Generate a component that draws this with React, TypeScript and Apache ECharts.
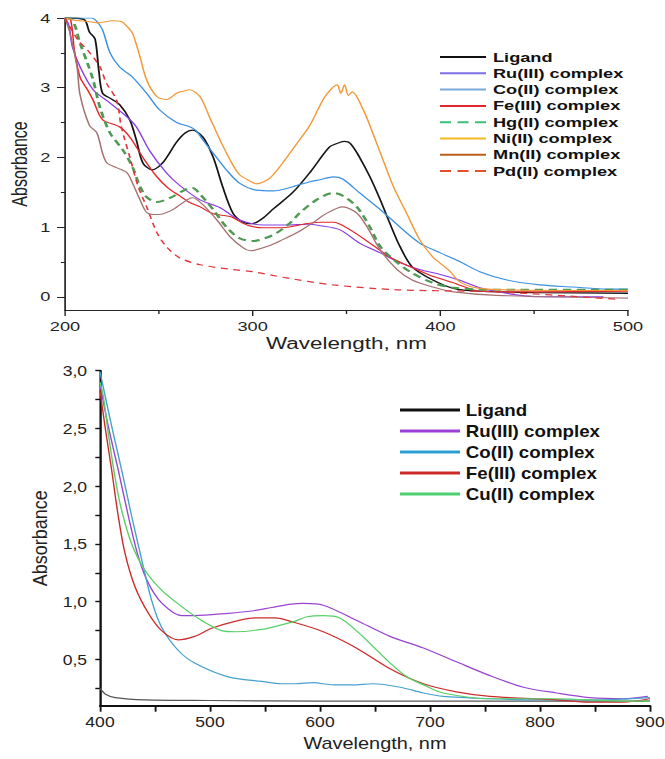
import React, { useEffect, useRef } from "react";
import * as echarts from "echarts";

// ---------- TOP PANEL DATA (wavelength nm, absorbance) ----------
const ligandTop = [[200,4],[210,3.98],[213,3.8],[216,3.7],[218,3.25],[220,2.92],[224,2.85],[229,2.76],[234.5,2.54],[238,2.25],[241.5,1.92],[246.5,1.82],[252,1.92],[259.5,2.22],[264,2.35],[268,2.39],[273.5,2.29],[279,2.0],[284,1.58],[289.5,1.2],[295,1.07],[300,1.05],[305,1.12],[311,1.26],[321.5,1.5],[331,1.8],[341,2.15],[346,2.21],[349,2.23],[352,2.2],[357,2.0],[362.5,1.72],[368,1.39],[373,1.06],[378.5,0.72],[385,0.43],[396,0.24],[407,0.12],[420,0.08],[450,0.06],[500,0.05]];
const ruTop = [[200,4],[202,3.9],[204,3.58],[208,3.3],[215,2.97],[224,2.78],[233,2.58],[238,2.44],[245,2.1],[254,1.78],[261,1.6],[272,1.39],[282.5,1.28],[293,1.1],[305.5,1.03],[318,1.03],[329,1.04],[336,1.02],[346.5,0.96],[357,0.77],[368,0.63],[378.5,0.49],[389,0.39],[400,0.32],[410,0.24],[421,0.13],[435,0.05],[453,0.0],[487,0.0]];
const coTop = [[200,4],[214,4],[217,3.95],[220,3.83],[224,3.5],[229,3.3],[236,3.15],[243.5,2.92],[250.5,2.68],[259.5,2.5],[266.5,2.44],[270,2.38],[273.5,2.25],[279,2.06],[286,1.82],[293,1.63],[302,1.53],[311,1.52],[321.5,1.58],[330.5,1.65],[336,1.68],[343,1.72],[348,1.69],[357,1.49],[368,1.25],[378.5,1.0],[389,0.77],[400,0.63],[410,0.51],[421,0.36],[435.5,0.24],[453,0.17],[470.6,0.14],[489,0.11],[500,0.11]];
const feTop = [[200,4],[203,3.97],[205,3.54],[208,3.15],[212,2.97],[215,2.82],[220,2.54],[229,2.44],[234.6,2.29],[241.5,2.0],[249,1.72],[255,1.56],[261,1.45],[266,1.36],[272,1.29],[279,1.19],[288,1.15],[297,1.03],[305.5,0.99],[316,0.99],[329,1.05],[336,1.07],[343,1.07],[352,0.96],[362.5,0.77],[373,0.57],[384,0.43],[394.5,0.31],[407,0.2],[410,0.17],[421,0.08],[450,0.07],[500,0.08]];
const hgTop = [[200,4],[204,3.97],[208,3.64],[212,3.35],[215,3.11],[218.6,2.72],[224,2.35],[231,2.1],[236,1.86],[240,1.58],[243.5,1.43],[249,1.36],[256,1.42],[265,1.55],[268,1.56],[272,1.47],[279,1.25],[286,1.0],[293,0.84],[300,0.8],[311,0.89],[320,1.06],[325,1.2],[334,1.39],[343,1.49],[348,1.45],[355.5,1.29],[362.5,1.0],[368,0.72],[377,0.49],[385,0.34],[396,0.2],[407,0.13],[430,0.1],[500,0.1]];
const niTop = [[200,4],[205,3.97],[212,3.95],[218,3.93],[225,3.96],[230,3.95],[233,3.88],[236,3.78],[240,3.44],[243.5,3.11],[249,2.87],[254,2.83],[259.5,2.92],[263,2.95],[266.5,2.97],[272,2.87],[277,2.58],[282.6,2.25],[288,1.96],[293,1.75],[298.6,1.66],[302,1.62],[309,1.7],[316,1.92],[323.6,2.2],[330.5,2.46],[338.5,2.87],[345,3.04],[347,2.92],[349,3.04],[351,2.89],[353,2.94],[359,2.68],[364,2.35],[369.5,1.96],[375,1.58],[382,1.2],[389,0.82],[396,0.57],[400,0.48],[405,0.37],[410,0.22],[417,0.14],[425,0.11],[460,0.09],[500,0.09]];
const mnTop = [[200,4],[202.7,3.78],[206.4,3.3],[208,2.9],[213,2.46],[217,2.35],[220,2.06],[222.4,1.92],[227.7,1.85],[233,1.78],[236,1.63],[240,1.39],[244,1.2],[250,1.18],[257.5,1.25],[265,1.39],[268,1.42],[273.5,1.32],[281,1.1],[288,0.86],[295,0.7],[298.6,0.66],[307.6,0.72],[316,0.82],[325,0.94],[332,1.06],[339.6,1.2],[348,1.29],[355.5,1.2],[361,1.0],[368,0.67],[377,0.39],[385,0.24],[396,0.14],[407,0.07],[430,0.02],[500,-0.02]];
const pdTop = [[200,4],[207,3.68],[212,3.54],[218.6,3.3],[222,3.07],[227.5,2.82],[230,2.44],[234.6,2.0],[239,1.58],[243.5,1.29],[249,0.92],[254,0.72],[261,0.56],[272,0.46],[289.5,0.39],[300,0.36],[318,0.27],[343,0.17],[377,0.1],[430,0.07],[496,-0.04]];

// ---------- BOTTOM PANEL DATA ----------
const ligandBot = [[400,0.25],[405,0.2],[414,0.17],[441,0.15],[500,0.145],[600,0.14],[700,0.14],[800,0.14],[900,0.14]];
const ruBot = [[400,2.88],[407.5,2.52],[416.6,2.14],[425.8,1.74],[434.8,1.39],[444,1.16],[456,0.99],[474,0.88],[486,0.88],[516.6,0.9],[538,0.92],[556,0.95],[574,0.98],[585,0.985],[603,0.97],[633,0.84],[663.6,0.7],[694,0.6],[724,0.48],[754.5,0.36],[785,0.26],[815,0.21],[845,0.17],[876,0.16],[898,0.18]];
const coBot = [[400,2.99],[410.6,2.52],[419.7,2.14],[428.8,1.74],[438,1.36],[447,1.01],[456,0.78],[471,0.58],[486,0.47],[516.6,0.35],[547,0.31],[565,0.29],[577,0.29],[594,0.3],[612,0.28],[630,0.28],[648,0.29],[673,0.26],[694,0.21],[712,0.18],[754.5,0.16],[800,0.15],[850,0.15],[900,0.17]];
const feBot = [[400,2.83],[404.5,2.52],[410.6,2.14],[416.6,1.74],[422.7,1.42],[431.8,1.13],[444,0.9],[456,0.75],[471,0.67],[486,0.7],[501.5,0.77],[522.7,0.83],[541,0.86],[559,0.86],[577,0.82],[603,0.74],[633,0.6],[663.6,0.42],[694,0.29],[724,0.22],[754.5,0.18],[815,0.15],[845,0.13],[875,0.13],[900,0.16]];
const cuBot = [[400,2.9],[403,2.78],[407.5,2.46],[413.6,2.08],[419.7,1.79],[428.8,1.5],[441,1.27],[456,1.1],[474,0.96],[492,0.84],[510.6,0.75],[522.7,0.74],[547,0.76],[565,0.8],[577,0.83],[588,0.87],[603,0.88],[618,0.86],[633,0.75],[648.5,0.61],[663.6,0.47],[679,0.35],[694,0.28],[712,0.21],[754.5,0.16],[815,0.16],[876,0.14],[900,0.14]];

// ---------- TICKS ----------
const topYLabels = [0, 1, 2, 3, 4];
const topYMinor = [0.5, 1.5, 2.5, 3.5];
const botYLabels = [0.5, 1.0, 1.5, 2.0, 2.5, 3.0];
const botYTicks = [0.25, 0.5, 0.75, 1.0, 1.25, 1.5, 1.75, 2.0, 2.25, 2.5, 2.75, 3.0];

const FONT = "'Liberation Sans', Arial, Helvetica, sans-serif";
const S1 = 1.4; // horizontal stretch of the top panel
const S2 = 1.17; // horizontal stretch of the bottom panel
const W1 = 665 / S1;
const W2 = 665 / S2;

const SOLID = "path://M0,0H100V6H0Z";
const DASH = "path://M0,0H24V6H0Z M38,0H62V6H38Z M76,0H100V6H76Z";

const topSeries = [
  { name: "Ligand", data: ligandTop, color: "#151515", legend: "#111111", width: 1.3, type: "solid", icon: SOLID },
  { name: "Ru(III) complex", data: ruTop, color: "#8a3ee6", legend: "#7d6ee6", width: 1.1, type: "solid", icon: SOLID },
  { name: "Co(II) complex", data: coTop, color: "#3b8fe0", legend: "#78a9d8", width: 1.1, type: "solid", icon: SOLID },
  { name: "Fe(III) complex", data: feTop, color: "#e3262b", legend: "#e3262b", width: 1.1, type: "solid", icon: SOLID },
  { name: "Hg(II) complex", data: hgTop, color: "#4d9a52", legend: "#3cc07a", width: 2, type: [6, 4], icon: DASH },
  { name: "Ni(II) complex", data: niTop, color: "#f29a3a", legend: "#f5b922", width: 1.1, type: "solid", icon: SOLID },
  { name: "Mn(II) complex", data: mnTop, color: "#a57272", legend: "#b8601c", width: 1.1, type: "solid", icon: SOLID },
  { name: "Pd(II) complex", data: pdTop, color: "#e0353a", legend: "#e4502c", width: 1.2, type: [5, 4], icon: DASH },
];

const botSeries = [
  { name: "Ligand", data: ligandBot, color: "#555555", legend: "#111111" },
  { name: "Ru(III) complex", data: ruBot, color: "#9a45d2", legend: "#9b3fd6" },
  { name: "Co(II) complex", data: coBot, color: "#45a2cf", legend: "#2e9fd2" },
  { name: "Fe(III) complex", data: feBot, color: "#cc2b2b", legend: "#cc2a2a" },
  { name: "Cu(II) complex", data: cuBot, color: "#58d068", legend: "#4cd070" },
];

function topOption(): any {
  const axisCol = "#222";
  return {
    animation: false,
    backgroundColor: "transparent",
    grid: { left: 65 / S1, top: 18, width: (628 - 65) / S1, height: 292, containLabel: false, outerBoundsMode: "none" },
    xAxis: {
      type: "value", min: 200, max: 500, interval: 100,
      axisLine: { show: true, onZero: false, lineStyle: { color: axisCol, width: 1.2 } },
      axisTick: { show: true, length: 6, lineStyle: { color: axisCol, width: 1 } },
      minorTick: { show: true, splitNumber: 2, length: 4, lineStyle: { color: axisCol, width: 1 } },
      splitLine: { show: false }, minorSplitLine: { show: false },
      axisLabel: { color: axisCol, fontSize: 13, margin: 10, fontFamily: FONT },
      name: "Wavelength, nm", nameLocation: "middle", nameGap: 25, nameMoveOverlap: false,
      nameTextStyle: { fontSize: 16, color: axisCol, fontFamily: FONT },
    },
    yAxis: [
      {
        type: "value", min: -0.19, max: 4, position: "left",
        axisLine: { show: true, onZero: false, lineStyle: { color: axisCol, width: 1.2 } },
        axisTick: { show: true, length: 5.7, customValues: topYLabels, lineStyle: { color: axisCol, width: 1 } },
        axisLabel: { show: true, customValues: topYLabels, color: axisCol, fontSize: 13, margin: 10.5, fontFamily: FONT },
        splitLine: { show: false },
        name: "Absorbance", nameLocation: "middle", nameGap: 25, nameRotate: 90, nameMoveOverlap: false,
        nameTextStyle: { fontSize: 16, color: axisCol, fontFamily: FONT },
      },
      {
        type: "value", min: -0.19, max: 4, position: "left", offset: 0,
        axisLine: { show: false, onZero: false },
        axisTick: { show: true, length: 2.9, customValues: topYMinor, lineStyle: { color: axisCol, width: 1 } },
        axisLabel: { show: false },
        splitLine: { show: false },
      },
    ],
    legend: {
      orient: "vertical", left: 440 / S1, top: 50, padding: 0,
      itemWidth: 46 / S1, itemHeight: 14, itemGap: 2.3, selectedMode: false,
      textStyle: { fontSize: 13, fontWeight: "bold", color: "#111", fontFamily: FONT, lineHeight: 14 },
      data: topSeries.map((s) => ({ name: s.name, icon: s.icon, itemStyle: { color: s.legend, borderWidth: 0 } })),
    },
    series: topSeries.map((s) => ({
      type: "line", name: s.name, data: s.data, symbol: "none", smooth: 0.3,
      xAxisIndex: 0, yAxisIndex: 0, color: s.color,
      lineStyle: { color: s.color, width: s.width, type: s.type },
    })),
  };
}

function bottomOption(): any {
  const axisCol = "#111";
  return {
    animation: false,
    backgroundColor: "transparent",
    grid: { left: 100 / S2, top: 20.7, width: 550 / S2, height: 335, containLabel: false, outerBoundsMode: "none" },
    xAxis: {
      type: "value", min: 400, max: 900, interval: 100,
      axisLine: { show: true, onZero: false, lineStyle: { color: axisCol, width: 2 } },
      axisTick: { show: true, length: 6, lineStyle: { color: axisCol, width: 1.6 } },
      minorTick: { show: true, splitNumber: 2, length: 6, lineStyle: { color: axisCol, width: 1.6 } },
      splitLine: { show: false }, minorSplitLine: { show: false },
      axisLabel: { color: "#222", fontSize: 15, margin: 8, fontFamily: FONT },
      name: "Wavelength, nm", nameLocation: "middle", nameGap: 29, nameMoveOverlap: false,
      nameTextStyle: { fontSize: 17, color: "#222", fontFamily: FONT },
    },
    yAxis: {
      type: "value", min: 0.1, max: 3.0, position: "left",
      axisLine: { show: true, onZero: false, lineStyle: { color: axisCol, width: 2 } },
      axisTick: { show: true, length: 4, customValues: botYTicks, lineStyle: { color: axisCol, width: 1.4 } },
      axisLabel: {
        show: true, customValues: botYLabels, color: "#222", fontSize: 15, margin: 11, fontFamily: FONT,
        formatter: (v: number) => v.toFixed(1).replace(".", ","),
      },
      splitLine: { show: false },
      name: "Absorbance", nameLocation: "middle", nameGap: 43, nameRotate: 90, nameMoveOverlap: false,
      nameTextStyle: { fontSize: 18, color: "#222", fontFamily: FONT },
    },
    legend: {
      orient: "vertical", left: 400 / S2, top: 52, padding: 0,
      itemWidth: 60 / S2, itemHeight: 16, itemGap: 5, selectedMode: false,
      textStyle: { fontSize: 16, fontWeight: "bold", color: "#111", fontFamily: FONT, lineHeight: 16 },
      data: botSeries.map((s) => ({ name: s.name, icon: SOLID, itemStyle: { color: s.legend, borderWidth: 0 } })),
    },
    series: botSeries.map((s) => ({
      type: "line", name: s.name, data: s.data, symbol: "none", smooth: 0.3, color: s.color,
      lineStyle: { color: s.color, width: 1.2 },
    })),
  };
}

export default function App() {
  const topRef = useRef<HTMLDivElement>(null);
  const botRef = useRef<HTMLDivElement>(null);
  useEffect(() => {
    const c1 = echarts.init(topRef.current as HTMLDivElement, null, { renderer: "svg" });
    c1.setOption(topOption());
    const c2 = echarts.init(botRef.current as HTMLDivElement, null, { renderer: "svg" });
    c2.setOption(bottomOption());
    return () => {
      c1.dispose();
      c2.dispose();
    };
  }, []);
  return (
    <div style={{ position: "absolute", left: 0, top: 0, width: 665, height: 759, overflow: "hidden", background: "#fff" }}>
      <div
        ref={topRef}
        style={{ position: "absolute", left: 0, top: 0, width: W1, height: 362, transform: `scaleX(${S1})`, transformOrigin: "0 0" }}
      />
      <div
        ref={botRef}
        style={{ position: "absolute", left: 0, top: 350, width: W2, height: 409, transform: `scaleX(${S2})`, transformOrigin: "0 0" }}
      />
    </div>
  );
}
